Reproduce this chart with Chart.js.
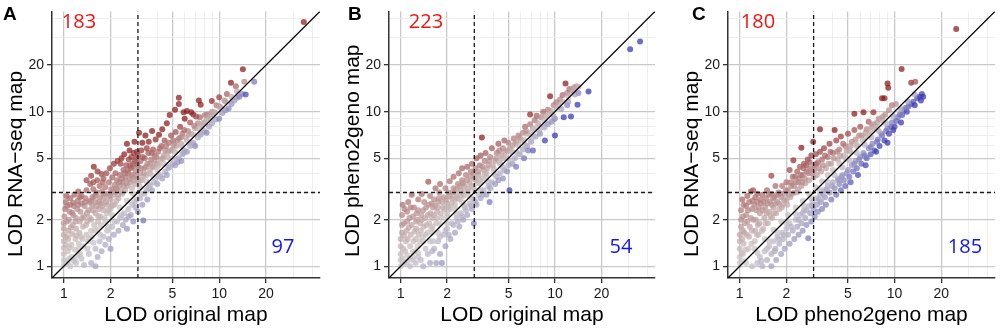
<!DOCTYPE html>
<html>
<head>
<meta charset="utf-8">
<script src="https://cdn.jsdelivr.net/npm/chart.js@4.4.1/dist/chart.umd.min.js"></script>
<style>
    html, body { margin: 0; padding: 0; background: #fff; }
    #wrap { position: relative; width: 1000px; height: 330px; }
    .panel { position: absolute; top: 0; height: 330px; }
</style>
</head>
<body>
<div id="wrap">
    <div class="panel" style="left:0;width:330px"><canvas id="panelA" width="330" height="330"></canvas></div>
    <div class="panel" style="left:330px;width:335px"><canvas id="panelB" width="335" height="330"></canvas></div>
    <div class="panel" style="left:665px;width:335px"><canvas id="panelC" width="335" height="330"></canvas></div>
</div>
<script>
// --- data (LOD scores, [x, y]) ---
const panelLetters = ['A', 'B', 'C'];
const xTitles = ['LOD original map', 'LOD original map', 'LOD pheno2geno map'];
const yTitles = ['LOD RNA\u2212seq map', 'LOD pheno2geno map', 'LOD RNA\u2212seq map'];
const countsAbove = [183, 223, 180];
const countsBelow = [97, 54, 185];
const tickValues = [1, 2, 3, 4, 5, 6, 7, 8, 9, 10, 20, 30, 40];
const majorTicks = [1, 2, 5, 10, 20];
const axisMin = 0.84;
const axisMax = 44.5;
const threshold = 3;

// A: original map vs RNA-seq map
const pointsA = [
    [1.0,1.02],[1.0,1.1],[1.0,1.2],[1.0,1.32],[1.0,1.45],[1.0,1.6],[1.0,1.75],[1.0,1.9],[1.01,2.1],[1.02,2.35],[1.03,2.6],[1.04,2.85],
    [1.06,1.05],[1.06,1.25],[1.07,1.5],[1.07,1.7],[1.08,2.0],[1.09,2.25],[1.1,2.5],[1.1,2.75],[1.12,1.15],[1.12,1.38],[1.13,1.62],[1.14,1.85],
    [1.15,2.15],[1.16,2.45],[1.17,2.9],[1.18,1.28],[1.19,1.5],[1.2,1.75],[1.2,2.05],[1.22,2.35],[1.23,2.65],[1.24,3.05],[1.25,1.4],[1.26,1.65],
    [1.27,1.95],[1.28,2.25],[1.3,2.55],[1.3,2.85],
    [1.32,1.5],[1.33,1.8],[1.35,2.1],[1.36,2.45],[1.38,2.75],[1.4,3.1],[1.4,1.6],[1.42,1.95],[1.44,2.3],[1.46,2.6],[1.48,3.4],[1.5,1.7],
    [1.5,2.0],[1.52,2.45],[1.53,2.8],[1.55,3.15],[1.56,4.4],[1.57,1.85],[1.6,2.2],[1.6,2.6],[1.62,3.0],[1.64,3.6],[1.65,4.1],[1.66,1.95],
    [1.68,2.35],[1.7,2.8],[1.7,3.3],[1.4,3.6],[1.5,3.85],[1.55,3.5],[1.75,3.95],[1.8,3.7],
    [1.72,2.1],[1.74,2.55],[1.76,3.05],[1.78,3.5],[1.8,2.3],[1.82,2.75],[1.85,3.25],[1.88,4.0],[1.9,2.2],[1.9,2.5],[1.92,2.95],[1.95,3.5],
    [1.98,4.3],[2.0,2.35],[2.0,2.7],[2.02,3.15],[2.05,3.75],[2.08,2.5],[2.1,2.9],[2.1,4.6],[2.12,3.35],[2.15,4.0],[2.18,2.65],[2.2,3.1],
    [2.2,3.6],[2.22,4.8],
    [2.25,2.75],[2.28,3.3],[2.3,3.9],[2.32,4.6],[2.35,5.0],[2.38,2.95],[2.4,3.5],[2.42,4.2],[2.45,5.3],[2.48,3.1],[2.5,3.75],[2.52,4.5],
    [2.55,6.2],[2.57,3.3],[2.6,4.0],[2.62,4.9],[2.65,5.6],[2.68,3.5],[2.7,4.3],[2.72,5.1],[2.75,3.2],[2.78,3.8],[2.8,4.6],[2.82,5.4],
    [2.85,6.4],[2.88,3.4],[2.9,4.1],[2.92,5.0],[2.95,5.5],[2.98,3.7],[3.0,4.4],[3.0,5.2],
    [3.05,7.3],[3.08,3.6],[3.1,4.0],[3.12,4.8],[3.15,5.6],[3.2,6.3],[3.25,3.8],[3.3,4.3],[3.32,5.0],[3.35,7.0],[3.4,3.9],[3.45,4.6],
    [3.5,5.4],[3.52,6.4],[3.6,4.2],[3.65,4.9],[3.7,7.5],[3.75,5.7],[3.8,4.4],[3.85,5.2],[3.9,6.6],[4.0,4.6],[4.05,5.5],[4.1,7.1],
    [4.2,4.9],[4.25,6.0],[4.3,7.7],[4.4,5.2],[4.45,6.5],[4.5,5.6],
    [4.6,8.4],[4.7,5.5],[4.75,6.3],[4.8,9.5],[4.9,7.0],[5.0,5.7],[5.05,6.5],[5.2,10.3],[5.25,7.4],[5.3,6.0],[5.5,12.3],[5.5,11.2],
    [5.5,6.7],[5.6,8.0],[5.7,6.2],[5.8,7.2],[5.9,9.9],[6.0,9.0],[6.1,6.8],[6.2,10.1],[6.3,7.5],[6.5,8.5],[6.6,9.9],[6.6,7.2],[6.8,9.6],[7.0,7.8],
    [7.4,11.8],[7.3,8.4],[7.5,9.2],[7.6,11.1],[7.9,8.5],[8.1,9.5],[8.4,9.6],[8.5,9.3],[8.96,11.7],[9.0,10.0],[9.3,9.8],[9.6,11.0],
    [10.0,10.8],[10.0,12.4],[10.8,11.8],
    [11.9,15.4],[11.2,13.0],[12.8,14.6],[14.2,18.8],[14.5,15.6],[35,38],
    [1.03,1.38],[1.04,1.55],[1.05,1.95],[1.05,2.45],[1.08,1.12],[1.09,1.32],[1.11,1.78],[1.13,2.22],[1.15,2.58],[1.16,1.08],[1.19,1.95],
    [1.21,1.58],[1.23,1.18],[1.24,2.5],[1.27,2.8],[1.29,1.55],[1.31,2.05],[1.34,1.35],[1.37,2.6],[1.39,1.85],[1.41,2.2],[1.43,1.45],
    [1.47,2.05],[1.49,2.65],[1.51,1.55],[1.54,2.3],[1.58,2.85],[1.59,1.7],[1.63,2.45],[1.67,2.1],[1.69,2.6],[1.73,1.85],[1.77,2.45],
    [1.81,2.95],[1.83,2.05],[1.87,2.6],[1.93,2.3],[1.97,2.85],[2.03,2.45],[2.07,3.05],[2.13,2.5],[2.17,3.2],[2.23,2.9],[2.27,3.5],
    [2.33,3.05],[2.37,3.7],[2.43,3.3],[2.47,4.0],[2.53,3.45],[2.58,4.2],[2.63,3.65],[2.67,4.5],[2.73,3.9],[2.77,4.4],[2.83,3.6],
    [2.87,4.8],[2.93,3.9],[2.97,4.6],[3.03,3.45],[3.13,4.3],[3.18,3.6],[3.22,5.1],[3.28,4.0],[3.38,4.4],[3.42,5.8],[3.55,4.0],
    [3.58,4.6],[3.68,5.4],[3.72,4.4],[3.83,4.8],[3.95,5.1],[4.08,4.5],[4.15,5.8],[4.35,5.0],[4.55,6.0],[4.65,5.1],[4.85,5.6],
    [5.1,6.1],[5.35,6.5],[5.65,6.8],[5.95,7.6],[6.4,7.1],[6.9,8.1],[7.1,9.3],[7.7,8.2],[8.3,8.9],[8.8,9.5],
    [1.1,1.0],[1.2,1.05],[1.3,1.12],[1.35,1.02],[1.45,1.2],[1.5,1.05],[1.6,1.0],[1.6,1.3],[1.65,1.15],[1.7,1.45],[1.75,1.25],[1.8,1.55],
    [1.85,1.38],[1.9,1.7],[1.95,1.5],[2.0,1.3],[2.05,1.8],[2.1,1.6],[2.2,1.95],[2.25,1.7],[2.3,2.05],[2.4,1.85],[2.45,2.2],[2.5,2.0],
    [2.55,1.75],[2.6,2.35],[2.7,2.15],[2.75,2.5],[2.8,1.95],[2.9,2.4],[2.95,2.7],[3.0,2.25],[3.25,1.98],[3.1,2.75],[3.2,2.5],[3.3,2.95],
    [3.4,3.1],[3.45,2.7],[3.5,3.2],[3.6,3.35],[3.7,3.1],[3.8,3.5],[3.9,3.7],[4.0,3.4],[4.2,3.9],[4.3,3.7],[4.5,4.1],[4.6,3.9],
    [4.8,4.4],[5.0,4.6],[5.2,4.5],[5.4,4.7],[5.5,5.0],[5.7,4.8],[5.8,5.3],[6.0,5.6],[6.2,5.5],[6.5,6.0],[6.8,6.3],[7.0,6.0],
    [7.3,6.8],[7.6,7.1],[8.0,7.5],[8.3,7.3],[8.6,8.0],[9.0,8.4],[9.5,8.9],[10.0,9.0],[10.5,9.8],[11.0,10.2],[11.5,10.5],[12.0,11.2],
    [12.5,11.8],[13.0,12.3],[13.5,12.5],[14.0,13.0],[14.8,12.9],[16.8,15.6],
    [1.18,1.1],[1.28,1.2],[1.42,1.3],[1.55,1.42],[1.72,1.6],[1.92,1.8],[2.12,1.95],[2.35,2.15],[2.62,2.1],[2.85,2.6],[3.15,2.95],
    [3.55,3.3],[4.1,3.8],[4.7,4.3],[5.3,4.9],[5.9,5.4],[6.6,6.2],[7.7,7.3],
    [1.05,1.08],[1.25,1.3],[1.45,1.5],[1.65,1.72],[1.85,1.95],[2.05,2.15],[2.3,2.4],[2.55,2.65],[2.8,2.95],[3.1,3.25],[3.4,3.55],
    [3.7,3.9],[4.0,4.2],[4.4,4.6],[4.8,5.0],[5.2,5.5],[5.7,6.0],[6.2,6.5],[6.8,7.1],[7.4,7.8],[8.0,8.4],[8.7,9.1],[9.4,9.9],
    [10.2,10.7],[11.0,11.6],[12.0,12.5],[13.0,13.5]
];

// B: original map vs pheno2geno map
const pointsB = [
    [1.0,1.0],[1.0,1.1],[1.0,1.2],[1.0,1.35],[1.0,1.5],[1.02,1.65],[1.02,1.85],[1.02,2.15],[1.03,2.5],[1.06,1.05],[1.07,1.25],[1.08,1.45],
    [1.09,1.7],[1.1,1.95],[1.1,2.25],[1.12,2.6],[1.14,1.12],[1.15,1.35],[1.16,1.6],[1.18,1.85],[1.18,2.9],[1.2,2.1],[1.22,2.4],[1.24,1.25],
    [1.25,1.5],[1.26,1.75],[1.28,2.0],[1.3,2.3],[1.3,2.7],
    [1.33,1.45],[1.35,1.7],[1.37,2.0],[1.37,2.93],[1.4,2.3],[1.42,2.6],[1.45,1.6],[1.47,1.85],[1.5,2.15],[1.51,3.52],[1.52,2.5],[1.55,2.85],
    [1.58,1.75],[1.6,2.05],[1.62,2.4],[1.65,2.7],[1.68,3.2],[1.7,1.9],[1.72,2.25],[1.75,2.6],[1.78,3.0],[1.8,3.4],
    [1.85,2.05],[1.88,2.4],[1.9,2.8],[1.95,3.2],[2.0,2.2],[2.0,2.55],[2.05,3.0],[2.08,3.55],[2.1,2.35],[2.15,2.75],[2.2,3.2],[2.2,3.8],
    [2.25,2.5],[2.3,2.9],[2.35,3.4],[2.38,4.0],[2.4,2.7],[2.45,3.1],[2.5,3.6],[2.5,4.3],
    [2.55,2.85],[2.6,3.3],[2.65,3.9],[2.7,4.4],[2.75,3.05],[2.8,3.5],[2.85,4.1],[2.9,4.6],[2.95,3.25],[3.0,3.7],[3.05,4.3],[3.1,5.0],
    [3.15,3.45],[3.2,3.9],[3.25,4.5],[3.3,5.2],[3.36,6.8],[3.4,3.7],[3.45,4.2],[3.5,4.8],[3.55,5.4],
    [3.6,4.0],[3.7,4.5],[3.8,5.1],[3.9,5.8],[4.0,4.3],[4.1,4.8],[4.2,5.4],[4.3,6.2],[4.4,4.7],[4.5,5.2],[4.6,5.8],[4.7,6.5],
    [4.8,5.1],[4.9,5.6],[5.0,6.3],
    [5.2,5.5],[5.3,6.0],[5.4,6.7],[5.6,6.4],[5.8,7.0],[6.0,6.5],[6.2,7.3],[6.4,8.0],[6.6,7.2],[6.9,8.3],[6.9,9.6],[7.2,7.8],
    [7.4,8.8],[7.6,9.4],[7.8,8.4],[8.1,9.2],[8.4,10.0],[8.7,9.4],[9.0,10.3],[9.3,12.6],[9.4,10.1],[9.8,11.0],[10.2,11.5],[10.5,11.0],
    [10.8,12.0],[11.2,12.8],[11.7,15.2],[12.0,13.2],[12.4,14.0],[12.8,13.6],[13.3,14.4],[13.8,14.6],
    [1.03,1.12],[1.04,1.3],[1.05,1.58],[1.05,1.9],[1.06,2.35],[1.1,1.18],[1.11,1.5],[1.13,1.78],[1.14,2.05],[1.16,2.4],[1.2,1.15],
    [1.21,1.45],[1.23,1.68],[1.26,1.95],[1.27,2.2],[1.29,1.35],[1.31,1.6],[1.34,1.9],[1.36,2.15],[1.39,1.55],[1.41,1.8],[1.44,2.05],
    [1.46,2.4],[1.49,1.65],[1.53,1.9],[1.56,2.2],[1.59,2.55],[1.61,1.8],[1.64,2.15],[1.67,2.45],[1.71,2.05],[1.74,2.4],[1.77,2.75],
    [1.82,2.2],[1.86,2.6],[1.92,2.35],[1.97,2.7],[2.03,2.4],[2.07,2.85],[2.13,2.55],[2.18,3.0],[2.23,2.7],[2.28,3.15],[2.33,2.75],
    [2.42,3.3],[2.48,2.9],[2.53,3.45],[2.58,3.05],[2.68,3.6],[2.73,3.2],[2.83,3.8],[2.88,3.3],[2.97,4.0],[3.08,3.6],[3.18,4.1],
    [3.28,3.6],[3.38,4.4],[3.52,3.95],[3.65,4.3],[3.75,4.8],[3.95,4.5],[4.15,5.0],[4.35,5.6],[4.55,5.0],[4.75,5.5],[5.1,5.8],
    [5.5,6.2],[5.9,6.8],[6.5,7.5],
    [1.15,1.0],[1.25,1.05],[1.35,1.1],[1.4,1.0],[1.5,1.2],[1.55,1.05],[1.65,1.3],[1.7,1.05],[1.75,1.45],[1.8,1.2],[1.85,1.05],[1.9,1.6],
    [1.95,1.35],[2.0,1.75],[2.1,1.5],[2.15,1.9],[2.25,1.65],[2.3,2.05],[2.4,1.8],[2.45,2.2],[2.55,2.0],[2.6,2.4],[2.7,2.15],[2.8,2.55],
    [2.9,2.35],[2.98,1.89],[3.0,2.7],[3.1,2.5],[3.2,2.9],[3.3,2.75],[3.45,3.1],[3.6,2.9],[3.77,2.6],[3.7,3.3],[3.9,3.5],[4.1,3.4],
    [4.2,3.8],[4.4,4.0],[4.6,3.7],[4.7,4.2],[5.0,4.5],[5.07,3.1],[5.3,4.6],[5.5,5.0],[5.6,4.4],[5.9,5.3],[6.3,5.0],[6.2,5.7],
    [6.6,6.0],[6.7,5.6],[7.2,5.6],[7.0,6.4],[7.5,6.9],[8.0,7.2],[8.6,6.5],[8.5,7.9],[9.0,8.3],[9.5,8.6],[10.0,7.0],[10.0,9.0],
    [11.4,9.2],[12.7,9.3],[12.0,11.0],[14.0,11.1],[14.2,13.2],[16.5,13.5],[30.7,25.3],[35.6,28.4],
    [1.2,1.1],[1.3,1.15],[1.45,1.3],[1.6,1.25],[1.62,1.45],[1.8,1.55],[1.95,1.7],[2.05,1.6],[2.2,1.85],[2.35,1.95],[2.5,2.1],
    [2.65,2.3],[2.85,2.45],[3.05,2.6],[3.4,2.9],[3.8,3.2],[4.3,3.6],[4.9,4.1],
    [1.05,1.07],[1.2,1.24],[1.4,1.45],[1.6,1.66],[1.8,1.88],[2.0,2.1],[2.25,2.35],[2.5,2.6],[2.75,2.88],[3.0,3.15],[3.3,3.45],
    [3.6,3.8],[4.0,4.15],[4.4,4.6],[4.8,5.0],[5.3,5.5],[5.8,6.05],[6.3,6.6],[7.0,7.3],[7.7,8.0],[8.5,8.8],[9.3,9.7],[10.2,10.6],
    [11.2,11.6],[12.2,12.6],[13.2,13.7],[14.2,14.5],
    [1.1,1.05],[1.3,1.22],[1.55,1.45],[1.75,1.65],[2.0,1.9],[2.3,2.18],[2.6,2.45],[2.9,2.75],[3.3,3.1],[3.7,3.5],[4.1,3.9],
    [4.6,4.35],[5.1,4.85],[5.7,5.4],[6.4,6.1],[7.1,6.8],[7.9,7.5],[8.8,8.4],[9.8,9.3],[11.0,10.4],[12.2,11.6],[13.5,12.9]
];

// C: pheno2geno map vs RNA-seq map
const pointsC = [
    [1.0,1.05],[1.0,1.15],[1.0,1.3],[1.0,1.45],[1.0,1.6],[1.02,1.8],[1.02,2.0],[1.02,2.3],[1.04,2.7],[1.05,1.2],[1.06,1.4],[1.07,1.65],
    [1.08,1.9],[1.1,2.15],[1.1,2.45],[1.12,2.85],[1.14,1.3],[1.15,1.55],[1.16,1.8],[1.18,2.05],[1.18,3.05],[1.2,2.35],[1.21,2.65],[1.22,3.1],
    [1.25,1.45],[1.26,1.7],[1.27,2.0],[1.28,2.3],[1.3,2.6],[1.3,2.95],
    [1.32,1.6],[1.34,1.9],[1.35,2.2],[1.37,2.55],[1.4,2.9],[1.42,1.75],[1.44,2.05],[1.46,2.4],[1.48,2.75],[1.5,3.1],[1.52,1.9],[1.55,2.25],
    [1.57,2.6],[1.6,2.95],[1.6,3.85],[1.62,2.05],[1.65,2.4],[1.68,2.8],[1.7,3.3],[1.72,2.2],[1.75,2.6],[1.78,3.0],[1.8,2.35],
    [1.85,2.8],[1.88,3.3],[1.9,2.5],[1.95,2.95],[2.0,3.5],[2.0,2.65],[2.05,3.1],[2.1,4.2],[2.12,2.8],[2.15,3.3],[2.2,3.8],[2.22,4.85],
    [2.25,3.0],[2.3,3.5],[2.35,4.1],[2.38,3.15],[2.42,3.7],[2.45,4.4],[2.5,5.85],[2.5,3.3],
    [2.55,3.9],[2.6,4.6],[2.65,3.45],[2.7,4.1],[2.75,4.9],[2.8,3.6],[2.85,4.3],[2.9,5.2],[2.98,6.4],[3.0,3.75],[3.05,4.5],[3.1,5.3],
    [3.15,3.9],[3.2,4.7],[3.3,7.7],[3.3,5.5],[3.35,4.1],[3.4,4.9],[3.5,5.8],
    [3.6,4.3],[3.7,5.1],[3.8,6.2],[3.9,4.6],[4.0,5.4],[4.1,7.6],[4.2,6.5],[4.3,4.9],[4.4,5.7],[4.5,6.9],[4.7,5.2],[4.8,6.0],
    [5.0,7.2],[5.1,5.6],[5.3,6.4],[5.5,9.7],[5.5,7.6],[5.7,6.1],[5.9,7.0],[6.0,8.0],
    [6.3,9.9],[6.4,6.8],[6.6,7.7],[6.8,8.6],[7.0,7.4],[7.3,9.9],[7.3,8.3],[7.6,8.0],[7.9,9.0],[8.3,12.2],[8.3,8.8],[8.6,12.2],
    [8.7,9.6],[9.0,15.2],[9.1,14.3],[9.2,10.2],[9.6,11.0],[10.2,11.2],[11.1,18.9],[12.8,15.4],[13.6,15.6],[25,34.2],
    [1.03,1.22],[1.04,1.5],[1.05,1.7],[1.05,2.1],[1.06,2.5],[1.09,1.28],[1.11,1.6],[1.12,1.95],[1.13,2.3],[1.15,2.6],[1.19,1.4],
    [1.2,1.7],[1.22,2.0],[1.24,2.5],[1.26,2.8],[1.29,1.6],[1.31,1.85],[1.33,2.4],[1.36,2.7],[1.39,1.7],[1.41,2.3],[1.43,2.6],
    [1.47,1.9],[1.49,2.2],[1.51,2.55],[1.54,2.9],[1.58,2.1],[1.61,2.5],[1.64,2.75],[1.67,2.2],[1.71,2.55],[1.74,2.9],[1.79,2.55],
    [1.83,2.95],[1.87,2.4],[1.93,2.7],[1.98,3.1],[2.03,2.5],[2.08,2.9],[2.14,3.5],[2.18,2.95],[2.24,3.3],[2.28,3.8],[2.34,3.0],
    [2.4,3.5],[2.48,3.9],[2.53,3.5],[2.58,4.3],[2.63,3.7],[2.68,4.5],[2.78,4.0],[2.83,4.7],[2.93,4.0],[3.03,4.2],[3.13,4.6],
    [3.25,4.3],[3.45,4.5],[3.55,5.2],[3.75,4.6],[3.85,5.5],[4.05,5.0],[4.25,5.5],[4.45,5.2],[4.65,6.2],[4.9,5.6],[5.2,6.0],
    [5.6,6.6],[6.1,7.0],[6.5,7.3],[7.1,8.0],[7.7,8.5],[8.4,9.3],
    [1.2,1.0],[1.3,1.05],[1.35,1.15],[1.4,1.0],[1.45,1.25],[1.5,1.1],[1.55,1.35],[1.6,1.0],[1.6,1.2],[1.65,1.45],[1.7,1.3],[1.72,1.1],
    [1.75,1.55],[1.8,1.4],[1.85,1.2],[1.88,1.65],[1.9,1.5],[1.95,1.3],[2.0,1.75],
    [2.05,1.6],[2.1,1.4],[2.1,1.9],[2.2,1.7],[2.25,1.5],[2.3,2.0],[2.35,1.8],[2.4,1.6],[2.45,2.15],[2.5,1.9],[2.55,1.7],[2.6,2.3],
    [2.65,2.05],[2.7,1.85],[2.77,1.52],[2.8,2.45],[2.85,2.2],[2.9,1.95],[2.95,2.6],[3.0,2.35],
    [3.05,2.1],[3.1,2.75],[3.15,2.5],[3.2,2.25],[3.3,2.9],[3.35,2.6],[3.4,2.35],[3.5,3.1],[3.55,2.8],[3.6,2.5],[3.7,3.3],[3.8,3.0],
    [3.9,2.7],[4.0,3.5],[4.1,3.2],[4.2,2.9],[4.3,3.7],[4.4,3.4],[4.5,3.1],[4.6,3.9],[4.7,3.6],[4.8,3.3],[5.0,4.2],
    [5.1,3.8],[5.2,3.5],[5.3,4.5],[5.4,4.1],[5.6,4.8],[5.7,4.3],[5.8,3.9],[6.0,5.1],[6.1,4.6],[6.3,5.4],[6.5,4.5],[6.6,5.0],
    [6.8,5.8],[7.0,5.3],[7.2,6.2],[7.4,5.6],[7.6,5.5],[7.8,6.6],[8.0,6.0],
    [8.3,7.0],[8.6,6.5],[8.8,7.5],[9.0,6.3],[9.2,7.2],[9.5,8.0],[9.8,7.6],[10.0,8.0],[10.2,8.7],[10.5,9.2],[11.0,8.5],[11.2,9.5],
    [11.5,10.2],[12.0,10.0],[12.3,10.8],[12.8,11.2],[13.2,11.6],[13.5,11.0],[14.0,12.2],[14.5,12.5],[15.0,13.0],[14.8,11.8],[15.3,12.5],
    [1.38,1.08],[1.5,1.3],[1.68,1.25],[1.78,1.5],[1.92,1.6],[2.15,1.8],[2.4,2.0],[2.55,2.2],[2.7,2.3],[2.95,2.45],[3.25,2.7],
    [3.45,2.95],[3.65,3.15],[3.95,3.3],[4.35,3.6],[4.55,3.8],[4.9,4.0],[5.5,4.6],[5.9,4.9],[6.4,5.2],[7.0,5.9],[7.7,6.4],
    [8.2,7.2],[9.0,7.8],[9.6,8.5],[10.8,9.6],[11.8,10.6],
    [1.05,1.08],[1.25,1.3],[1.45,1.5],[1.65,1.72],[1.85,1.95],[2.05,2.15],[2.3,2.4],[2.55,2.65],[2.8,2.95],[3.1,3.25],[3.4,3.55],
    [3.7,3.9],[4.0,4.2],[4.4,4.6],[4.8,5.0],[5.2,5.5],[5.7,6.0],[6.2,6.5],[6.8,7.1],[7.4,7.8],
    [1.1,1.05],[1.3,1.22],[1.55,1.45],[1.75,1.65],[2.0,1.9],[2.3,2.18],[2.6,2.45],[2.9,2.75],[3.3,3.1],[3.7,3.5],[4.1,3.9],
    [4.6,4.35],[5.1,4.85],[5.7,5.4],[6.4,6.1],[7.1,6.8],[7.9,7.5],[8.8,8.4],[9.8,9.3],[11.0,10.4],[12.2,11.6],[13.5,12.9]
];

const panelPoints = [pointsA, pointsB, pointsC];

// --- layout (pixels inside each canvas) ---
const panelLayout = [
    { canvas: 'panelA', yAxisWidth: 52, padRight: 10, letterX: 3, aboveX: 79, belowX: 283 },
    { canvas: 'panelB', yAxisWidth: 59, padRight: 10, letterX: 18, aboveX: 96, belowX: 291 },
    { canvas: 'panelC', yAxisWidth: 63, padRight: 5, letterX: 27, aboveX: 93, belowX: 300 }
];

const midRGB = [205, 199, 199];
const highRGB = [140, 24, 24];
const lowRGB = [52, 52, 178];

function pointColour(p) {
    const d = p.y - p.x;
    let t, end;
    if (d >= 0) {
        t = Math.min(1, d / 3);
        end = highRGB;
    } else {
        t = Math.min(1, -d / 2.2);
        end = lowRGB;
    }
    const c = midRGB.map((m, i) => Math.round(m + (end[i] - m) * t));
    return `rgba(${c[0]},${c[1]},${c[2]},0.72)`;
}

const textPlugin = {
    id: 'panelText',
    afterDraw(chart) {
        const idx = chart.options.plugins.panelText.index;
        const lay = panelLayout[idx];
        const area = chart.chartArea;
        const ctx = chart.ctx;
        ctx.save();
        ctx.fillStyle = '#000';
        ctx.textBaseline = 'alphabetic';

        ctx.font = 'bold 19px "Liberation Sans", Arial, sans-serif';
        ctx.textAlign = 'left';
        ctx.fillText(panelLetters[idx], lay.letterX, 20);

        ctx.font = '21px "Liberation Sans", Arial, sans-serif';
        ctx.textAlign = 'center';
        ctx.fillText(xTitles[idx], (area.left + area.right) / 2, 321);

        ctx.save();
        ctx.translate(area.left - 30, 257);
        ctx.rotate(-Math.PI / 2);
        ctx.textAlign = 'left';
        ctx.fillText(yTitles[idx], 0, 0);
        ctx.restore();

        ctx.font = '20px "Open Sans", sans-serif';
        ctx.textAlign = 'center';
        ctx.fillStyle = '#f01414';
        ctx.fillText(String(countsAbove[idx]), lay.aboveX, 28);
        ctx.fillStyle = '#1414f0';
        ctx.fillText(String(countsBelow[idx]), lay.belowX, 253);
        ctx.restore();
    }
};

function axisOptions(isX, lay) {
    return {
        type: 'logarithmic',
        min: axisMin,
        max: axisMax,
        afterBuildTicks: scale => {
            scale.ticks = tickValues.map(v => ({ value: v }));
        },
        afterFit: scale => {
            if (isX) {
                scale.height = 52;
            } else {
                scale.width = lay.yAxisWidth;
            }
        },
        ticks: {
            autoSkip: false,
            maxRotation: 0,
            padding: 3,
            color: '#1a1a1a',
            font: { family: '"Liberation Sans", Arial, sans-serif', size: 14 },
            callback: v => (majorTicks.includes(v) ? String(v) : '')
        },
        grid: {
            color: ctx => (ctx.tick && majorTicks.includes(ctx.tick.value) ? '#c9c9c9' : '#ececec'),
            lineWidth: ctx => (ctx.tick && majorTicks.includes(ctx.tick.value) ? 1.3 : 0.9),
            tickColor: ctx => (ctx.tick && majorTicks.includes(ctx.tick.value) ? '#333' : 'rgba(0,0,0,0)'),
            tickLength: 5,
            drawTicks: true
        },
        border: { display: true, color: '#333', width: 1.5 }
    };
}

panelPoints.forEach((pts, idx) => {
    const lay = panelLayout[idx];
    const data = pts.map(p => ({ x: p[0], y: p[1] }));
    new Chart(document.getElementById(lay.canvas), {
        type: 'scatter',
        data: {
            datasets: [
                {
                    data: [{ x: axisMin, y: axisMin }, { x: axisMax, y: axisMax }],
                    showLine: true,
                    borderColor: '#000',
                    borderWidth: 1.3,
                    pointRadius: 0,
                    order: 0
                },
                {
                    data: [{ x: threshold, y: axisMin }, { x: threshold, y: axisMax }],
                    showLine: true,
                    borderColor: '#1a1a1a',
                    borderWidth: 1.3,
                    borderDash: [4, 3],
                    pointRadius: 0,
                    order: 0
                },
                {
                    data: [{ x: axisMin, y: threshold }, { x: axisMax, y: threshold }],
                    showLine: true,
                    borderColor: '#1a1a1a',
                    borderWidth: 1.3,
                    borderDash: [4, 3],
                    pointRadius: 0,
                    order: 0
                },
                {
                    data,
                    pointRadius: 3,
                    pointBorderWidth: 0,
                    backgroundColor: ctx => pointColour(ctx.raw),
                    borderColor: 'rgba(0,0,0,0)',
                    order: 1
                }
            ]
        },
        options: {
            responsive: false,
            animation: false,
            events: [],
            layout: { padding: { left: 0, right: lay.padRight, top: 4, bottom: 0 } },
            scales: {
                x: axisOptions(true, lay),
                y: axisOptions(false, lay)
            },
            plugins: {
                legend: { display: false },
                tooltip: { enabled: false },
                panelText: { index: idx }
            }
        },
        plugins: [textPlugin]
    });
});
</script>
</body>
</html>
